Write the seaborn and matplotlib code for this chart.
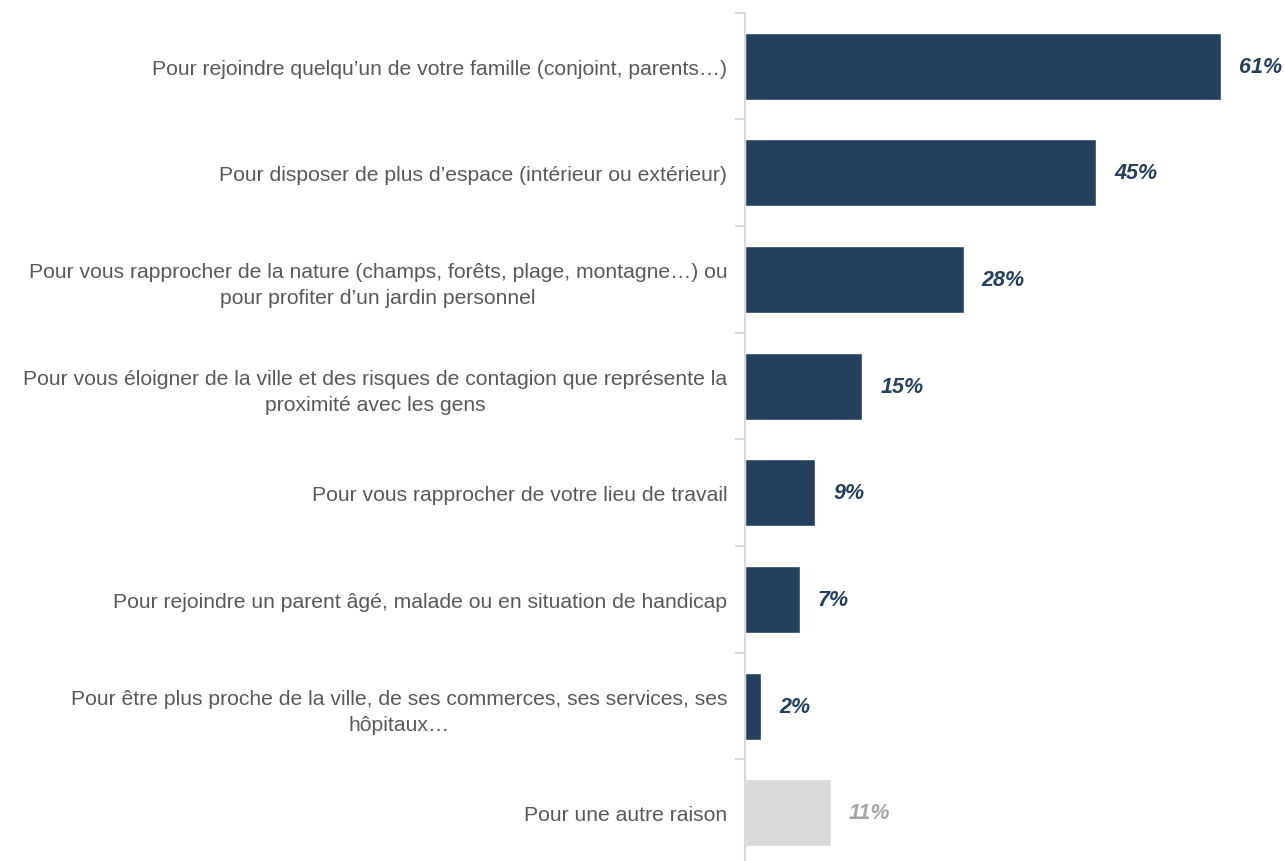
import pandas as pd
import matplotlib.pyplot as plt
import seaborn as sns

raisons = [
    "Pour rejoindre quelqu\u2019un de votre famille (conjoint, parents\u2026)",
    "Pour disposer de plus d\u2019espace (int\u00e9rieur ou ext\u00e9rieur)",
    "Pour vous rapprocher de la nature (champs, for\u00eats, plage, montagne\u2026) ou\npour profiter d\u2019un jardin personnel",
    "Pour vous \u00e9loigner de la ville et des risques de contagion que repr\u00e9sente la\nproximit\u00e9 avec les gens",
    "Pour vous rapprocher de votre lieu de travail",
    "Pour rejoindre un parent \u00e2g\u00e9, malade ou en situation de handicap",
    "Pour \u00eatre plus proche de la ville, de ses commerces, ses services, ses\nh\u00f4pitaux\u2026",
    "Pour une autre raison",
]
pourcentages = [61, 45, 28, 15, 9, 7, 2, 11]
couleurs = ["#253F5F"] * 7 + ["#D9D9D9"]
couleurs_txt = ["#253F5F"] * 7 + ["#A6A6A6"]

df = pd.DataFrame({"raison": raisons, "pct": pourcentages})

sns.set_style("white")
plt.rcParams["font.family"] = ["Liberation Sans", "DejaVu Sans"]

fig = plt.figure(figsize=(12.85, 8.62), dpi=100)
ax = fig.add_axes([0.58, -0.006, 0.42, 0.99])

sns.barplot(data=df, x="pct", y="raison", hue="raison", palette=couleurs,
            legend=False, width=0.63, saturation=1, ax=ax, orient="h")

ax.set_xlim(0, 69.2)
ax.set_ylim(len(raisons) - 0.5, -0.5)
ax.set_xlabel("")
ax.set_ylabel("")
ax.set_xticks([])

for s in ["top", "right", "bottom"]:
    ax.spines[s].set_visible(False)
ax.spines["left"].set_color("#D9D9D9")
ax.spines["left"].set_linewidth(1.5)

ax.set_yticks(range(len(raisons)))
ax.set_yticklabels(raisons, fontsize=15.2, color="#595959",
                   multialignment="center", linespacing=1.45)
ax.tick_params(axis="y", which="major", length=0, pad=13)
ax.set_yticks([i - 0.5 for i in range(len(raisons))], minor=True)
ax.tick_params(axis="y", which="minor", length=7, width=1.5, color="#D9D9D9", left=True)

for cont, c in zip(ax.containers, couleurs_txt):
    ax.bar_label(cont, labels=[f"{v:.0f}%" for v in cont.datavalues], padding=13,
                 fontsize=15.5, fontweight="bold", fontstyle="italic", color=c)

fig.savefig("out.png", dpi=100)
